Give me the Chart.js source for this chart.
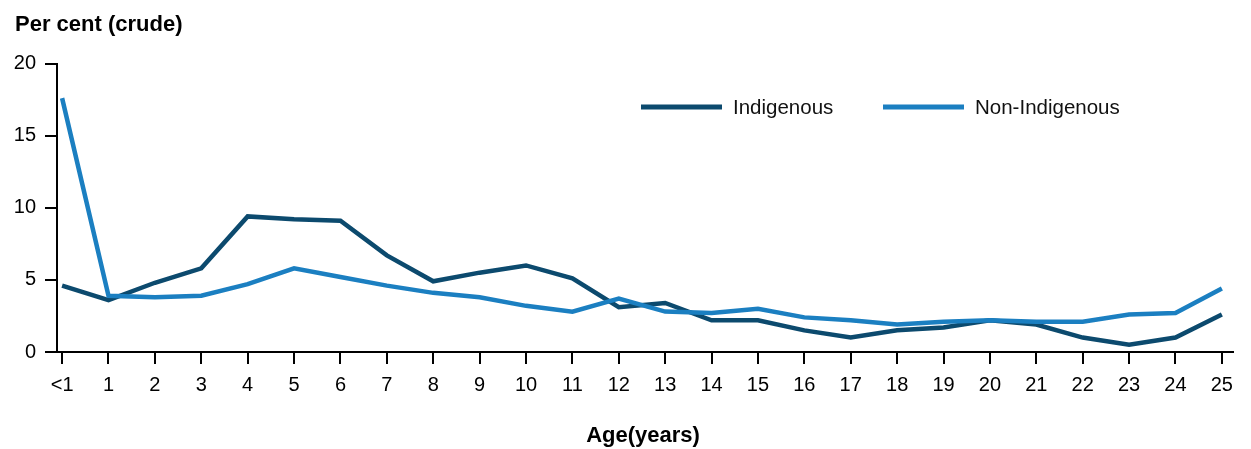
<!DOCTYPE html>
<html>
<head>
<meta charset="utf-8">
<script src="https://cdn.jsdelivr.net/npm/chart.js@4"></script>
<style>
  body { margin: 0; background: #fff; }
  #wrap { width: 1251px; height: 449px; position: relative; }
</style>
</head>
<body>
<div id="wrap"><canvas id="myChart"></canvas></div>
<script>
const ageLabels = ['<1', '1', '2', '3', '4', '5', '6', '7', '8', '9', '10', '11', '12',
  '13', '14', '15', '16', '17', '18', '19', '20', '21', '22', '23', '24', '25'];
const indigenous = [4.6, 3.6, 4.8, 5.8, 9.4, 9.2, 9.1, 6.7, 4.9, 5.5, 6.0, 5.1, 3.1,
  3.4, 2.2, 2.2, 1.5, 1.0, 1.5, 1.7, 2.2, 1.9, 1.0, 0.5, 1.0, 2.6];
const nonIndigenous = [17.6, 3.9, 3.8, 3.9, 4.7, 5.8, 5.2, 4.6, 4.1, 3.8, 3.2, 2.8, 3.7,
  2.8, 2.7, 3.0, 2.4, 2.2, 1.9, 2.1, 2.2, 2.1, 2.1, 2.6, 2.7, 4.4];
const yTicks = [0, 5, 10, 15, 20];

const FONT = "'Liberation Sans', Arial, sans-serif";
const DARK = '#0c4a6e';
const LIGHT = '#1b7fc1';

function points(vals) {
  return vals.map((v, i) => ({ x: i, y: v }));
}

// titles + legend drawn by hand
const extras = {
  id: 'extras',
  afterDraw(chart) {
    const c = chart.ctx;
    c.save();
    c.fillStyle = '#000';
    c.font = 'bold 22px ' + FONT;
    c.textBaseline = 'alphabetic';
    c.textAlign = 'left';
    c.fillText('Per cent (crude)', 15, 31);
    c.textAlign = 'center';
    c.fillText('Age(years)', 643, 442);

    // legend
    const items = [
      { x: 641, tx: 733 },
      { x: 883, tx: 975 }
    ];
    c.font = '20.5px ' + FONT;
    c.textAlign = 'left';
    c.textBaseline = 'middle';
    chart.data.datasets.forEach((ds, i) => {
      const it = items[i];
      c.strokeStyle = ds.borderColor;
      c.lineWidth = 5;
      c.beginPath();
      c.moveTo(it.x, 107);
      c.lineTo(it.x + 81, 107);
      c.stroke();
      c.fillStyle = '#111';
      c.fillText(ds.label, it.tx, 108);
    });
    c.restore();
  }
};

const ctx = document.getElementById('myChart');
const chart = new Chart(ctx, {
  type: 'line',
  data: {
    datasets: [{
      label: 'Indigenous',
      data: points(indigenous),
      borderColor: DARK,
      backgroundColor: DARK,
      borderWidth: 4.5,
      pointRadius: 0,
      tension: 0,
      order: 1
    }, {
      label: 'Non-Indigenous',
      data: points(nonIndigenous),
      borderColor: LIGHT,
      backgroundColor: LIGHT,
      borderWidth: 4.5,
      pointRadius: 0,
      tension: 0,
      order: 0
    }]
  },
  options: {
    responsive: true,
    maintainAspectRatio: false,
    animation: false,
    layout: {
      padding: { top: 63.5, left: 0, right: 18, bottom: 0 }
    },
    plugins: {
      legend: { display: false },
      tooltip: { enabled: false }
    },
    scales: {
      x: {
        type: 'linear',
        min: -0.11,
        max: 25.24,
        afterBuildTicks(scale) {
          scale.ticks = ageLabels.map((l, i) => ({ value: i }));
        },
        afterFit(scale) { scale.height = 97; },
        border: { display: true, color: '#000', width: 2 },
        grid: { display: true, drawOnChartArea: false, drawTicks: true, tickLength: 12, color: '#000', lineWidth: 2 },
        ticks: {
          autoSkip: false,
          maxRotation: 0,
          padding: 9,
          color: '#000',
          font: { family: FONT, size: 20 },
          callback: (v) => ageLabels[v]
        }
      },
      y: {
        min: 0,
        max: 20,
        afterBuildTicks(scale) {
          scale.ticks = yTicks.map(v => ({ value: v }));
        },
        afterFit(scale) { scale.width = 57; },
        border: { display: true, color: '#000', width: 2 },
        grid: { display: true, drawOnChartArea: false, drawTicks: true, tickLength: 12, color: '#000', lineWidth: 2 },
        ticks: {
          padding: 9,
          color: '#000',
          font: { family: FONT, size: 20 }
        }
      }
    }
  },
  plugins: [extras]
});
</script>
</body>
</html>
